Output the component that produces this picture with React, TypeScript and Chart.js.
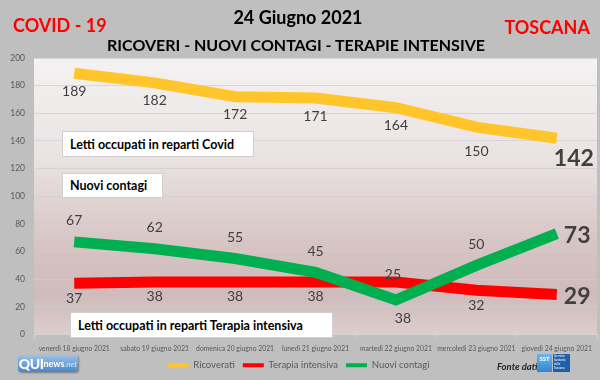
import React, { useEffect, useRef } from "react";
import { Chart, registerables } from "chart.js";

Chart.register(...registerables);

const categories = [
  "venerdì 18 giugno 2021",
  "sabato 19 giugno 2021",
  "domenica 20 giugno 2021",
  "lunedì 21 giugno 2021",
  "martedì 22 giugno 2021",
  "mercoledì 23 giugno 2021",
  "giovedì 24 giugno 2021",
];
const ricoverati = [189, 182, 172, 171, 164, 150, 142];
const terapiaIntensiva = [37, 38, 38, 38, 38, 32, 29];
const nuoviContagi = [67, 62, 55, 45, 25, 50, 73];
const seriesNames = ["Ricoverati", "Terapia intensiva", "Nuovi contagi"];
const yMin = 0;
const yMax = 200;
const yStep = 20;

const FONT = "Lato, 'DejaVu Sans', sans-serif";

const bgPlugin = {
  id: "bgPlugin",
  beforeDraw(chart: any) {
    const { ctx, chartArea } = chart;
    ctx.save();
    ctx.fillStyle = "#bfbfbf";
    ctx.fillRect(0, 0, chart.width, chart.height);
    const g = ctx.createLinearGradient(0, chartArea.top, 0, chartArea.bottom);
    g.addColorStop(0, "#f4f2f2");
    g.addColorStop(0.35, "#ebe3e3");
    g.addColorStop(0.7, "#d5c2c2");
    g.addColorStop(0.86, "#cfbbbb");
    g.addColorStop(1, "#ddcdcd");
    ctx.fillStyle = g;
    ctx.fillRect(chartArea.left, chartArea.top, chartArea.right - chartArea.left, chartArea.bottom - chartArea.top);
    ctx.restore();
  },
};

const labelPlugin = {
  id: "labelPlugin",
  afterDatasetsDraw(chart: any) {
    const { ctx } = chart;
    ctx.save();
    chart.data.datasets.forEach((ds: any, di: number) => {
      const meta = chart.getDatasetMeta(di);
      const n = meta.data.length;
      meta.data.forEach((pt: any, i: number) => {
        const v = ds.data[i];
        const last = i === n - 1;
        let x = pt.x;
        let y = pt.y;
        if (last) {
          ctx.font = `bold 23px ${FONT}`;
          ctx.fillStyle = "#404040";
          ctx.textAlign = "left";
          ctx.textBaseline = "middle";
          if (di === 0) {
            x = pt.x - 3;
            y = pt.y + 20;
          } else {
            x = pt.x + 7;
            y = pt.y + 2;
          }
          ctx.fillText(String(v), x, y);
          return;
        }
        ctx.font = `14px ${FONT}`;
        ctx.fillStyle = "#404040";
        ctx.textAlign = "center";
        ctx.textBaseline = "middle";
        let dy = 0;
        if (di === 0) dy = i === 5 ? 24 : 18;
        else if (di === 1) dy = i === 4 ? 37 : 15;
        else dy = i === 4 ? -25 : -21;
        let dx = 0;
        if (di === 1 && i === 4) dx = 7;
        if (di === 2 && i === 4) dx = -3;
        ctx.fillText(String(v), x + dx, y + dy);
      });
    });
    ctx.restore();
  },
};

export default function App() {
  const canvasRef = useRef<HTMLCanvasElement | null>(null);

  useEffect(() => {
    if (!canvasRef.current) return;
    const chart = new Chart(canvasRef.current, {
      type: "line",
      data: {
        labels: categories,
        datasets: [
          {
            label: seriesNames[0],
            data: ricoverati,
            borderColor: "#ffc52a",
            backgroundColor: "#ffc52a",
            borderWidth: 11,
            pointRadius: 0,
            tension: 0,
            borderCapStyle: "butt",
            borderJoinStyle: "miter",
            order: 2,
          },
          {
            label: seriesNames[1],
            data: terapiaIntensiva,
            borderColor: "#ff0000",
            backgroundColor: "#ff0000",
            borderWidth: 11,
            pointRadius: 0,
            tension: 0,
            borderCapStyle: "butt",
            borderJoinStyle: "miter",
            order: 1,
          },
          {
            label: seriesNames[2],
            data: nuoviContagi,
            borderColor: "#00b050",
            backgroundColor: "#00b050",
            borderWidth: 11,
            pointRadius: 0,
            tension: 0,
            borderCapStyle: "butt",
            borderJoinStyle: "miter",
            order: 0,
          },
        ],
      },
      options: {
        animation: false,
        responsive: false,
        maintainAspectRatio: false,
        layout: { padding: { top: 58, right: 3, left: 0, bottom: 0 } },
        scales: {
          x: {
            offset: true,
            grid: {
              offset: true,
              drawOnChartArea: false,
              drawTicks: true,
              tickLength: 4,
              color: "#d4d4d4",
            },
            border: { display: true, color: "#d4d4d4" },
            ticks: {
              autoSkip: false,
              maxRotation: 0,
              minRotation: 0,
              padding: 6,
              color: "#595959",
              font: { family: FONT, size: 6.8 },
            },
            afterFit(scale: any) {
              scale.height = 18;
            },
          },
          y: {
            min: yMin,
            max: yMax,
            grid: { color: "rgba(205,205,205,0.75)", drawTicks: false },
            border: { display: false },
            ticks: {
              stepSize: yStep,
              padding: 9,
              color: "#595959",
              font: { family: FONT, size: 8.5 },
            },
            afterFit(scale: any) {
              scale.width = 34;
            },
          },
        },
        plugins: {
          title: { display: false },
          tooltip: { enabled: false },
          legend: {
            display: true,
            position: "bottom",
            labels: {
              boxWidth: 21,
              boxHeight: 4,
              padding: 8,
              color: "#595959",
              font: { family: FONT, size: 9.5 },
              generateLabels(ch: any) {
                const items = (Chart.defaults as any).plugins.legend.labels.generateLabels(ch);
                items.forEach((it: any) => {
                  it.lineWidth = 0;
                  it.fillStyle = it.strokeStyle;
                });
                return items.sort((a: any, b: any) => a.datasetIndex - b.datasetIndex);
              },
            },
          },
        },
      },
      plugins: [bgPlugin, labelPlugin],
    } as any);
    return () => chart.destroy();
  }, []);

  const boxStyle: React.CSSProperties = {
    position: "absolute",
    background: "#ffffff",
    border: "1px solid #d0d0d0",
    boxSizing: "border-box",
    fontFamily: FONT,
    fontWeight: 700,
    fontSize: 12.5,
    color: "#000",
    display: "flex",
    alignItems: "center",
    paddingLeft: 7,
    whiteSpace: "nowrap",
  };

  return (
    <div style={{ position: "fixed", left: 0, top: 0, width: 600, height: 380, overflow: "hidden", background: "#bfbfbf" }}>
      <canvas ref={canvasRef} width={600} height={380} style={{ position: "absolute", left: 0, top: 0, width: 600, height: 380 }} />
      <div style={{ position: "absolute", left: 13, top: 13, fontFamily: FONT, fontWeight: 700, fontSize: 18, color: "#ff0000", lineHeight: "24px" }}>COVID - 19</div>
      <div style={{ position: "absolute", left: 0, width: 600, top: 5, textAlign: "center", fontFamily: FONT, fontWeight: 700, fontSize: 18, color: "#000", lineHeight: "24px", paddingRight: 4, boxSizing: "border-box" }}>24 Giugno 2021</div>
      <div style={{ position: "absolute", right: 10, top: 15, fontFamily: FONT, fontWeight: 700, fontSize: 18, color: "#ff0000", lineHeight: "24px" }}>TOSCANA</div>
      <div style={{ position: "absolute", left: 0, width: 600, top: 34, textAlign: "center", fontFamily: FONT, fontWeight: 700, fontSize: 16, color: "#000", lineHeight: "21px", paddingRight: 8, boxSizing: "border-box" }}>RICOVERI - NUOVI CONTAGI - TERAPIE INTENSIVE</div>

      <div style={{ ...boxStyle, left: 62, top: 131, width: 192, height: 26 }}>Letti occupati in reparti Covid</div>
      <div style={{ ...boxStyle, left: 62, top: 173, width: 101, height: 25 }}>Nuovi contagi</div>
      <div style={{ ...boxStyle, left: 70, top: 312, width: 263, height: 26 }}>Letti occupati in reparti Terapia intensiva</div>

      <div style={{ position: "absolute", left: 18, top: 355, width: 60, height: 17, borderRadius: 3, background: "linear-gradient(#9cc2e8, #4a86c5)", boxShadow: "1px 1px 2px rgba(0,0,0,0.35)", display: "flex", alignItems: "center", justifyContent: "center", fontFamily: FONT, color: "#fff", whiteSpace: "nowrap" }}>
        <span style={{ fontWeight: 900, fontSize: 14, letterSpacing: -0.5 }}>QUI</span>
        <span style={{ fontWeight: 700, fontSize: 9 }}>news</span>
        <span style={{ fontStyle: "italic", fontSize: 8, color: "#dbe9f7" }}>.net</span>
      </div>

      <div style={{ position: "absolute", left: 497, top: 361, fontFamily: FONT, fontStyle: "italic", fontWeight: 700, fontSize: 9.5, color: "#262626", lineHeight: "12px" }}>Fonte dati</div>
      <div style={{ position: "absolute", left: 537, top: 354, width: 15, height: 18, background: "linear-gradient(#6fb6ea, #2f86cf)", color: "#fff", fontFamily: FONT, fontWeight: 900, fontSize: 6, textAlign: "center", lineHeight: "9px" }}>SST</div>
      <div style={{ position: "absolute", left: 553, top: 354, width: 17, height: 18, background: "#1f5fa8", color: "#fff", fontFamily: FONT, fontSize: 3, lineHeight: "4px", paddingLeft: 1, boxSizing: "border-box", overflow: "hidden" }}>Servizio Sanitario della Toscana</div>
    </div>
  );
}
